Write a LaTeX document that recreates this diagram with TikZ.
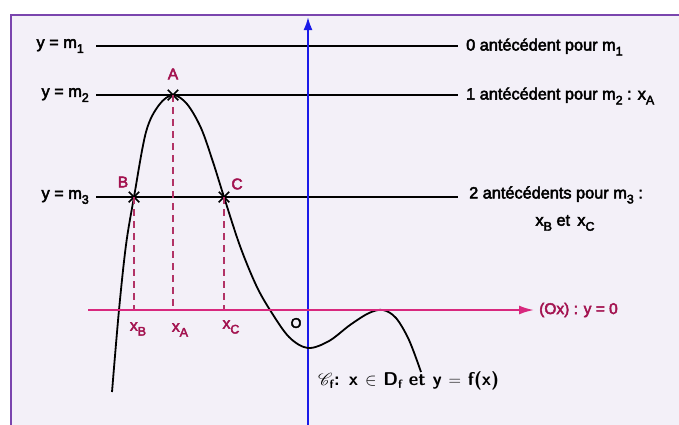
\documentclass[tikz,border=0pt]{standalone}
\usepackage{fontspec}
\usepackage{mathrsfs}
\setmainfont{Liberation Sans}
\newfontfamily\lab{Liberation Sans}[FakeBold=3]
\usetikzlibrary{arrows.meta,shapes.misc}
\definecolor{bgc}{HTML}{F3F0F8}
\definecolor{framec}{HTML}{7A45AE}
\definecolor{axb}{HTML}{1A1AE8}
\definecolor{axp}{HTML}{D8287E}
\definecolor{crim}{HTML}{A3124F}
\definecolor{dashc}{HTML}{B23366}
\newcommand{\sbx}[1]{\raisebox{-5pt}{\fontsize{12.5}{12}\selectfont #1}}
\begin{document}
\begin{tikzpicture}[x=1pt,y=-1pt,
  hline/.style={line width=1.3pt,black},
  curvestyle/.style={line width=1.8pt,black,line join=round},
  dashln/.style={line width=1.8pt,dashc,dash pattern=on 7pt off 5pt},
  ptmark/.style={draw=black,cross out,minimum size=9pt,inner sep=0pt,line width=1.5pt},
  lbl/.style={inner sep=0pt,font=\lab\fontsize{16.3}{18}\selectfont},
  clbl/.style={inner sep=0pt,text=crim,font=\lab\fontsize{15.5}{17}\selectfont},
]
\useasboundingbox (0,0) rectangle (679,424);
\clip (0,0) rectangle (679,424);
\fill[white] (0,0) rectangle (679,424);
\draw[framec,line width=2pt,fill=bgc] (11,15) rectangle (700,450);

% horizontal lines y = m1, m2, m3
\coordinate (l1a) at (96,46);  \coordinate (l1b) at (458,46);
\coordinate (l2a) at (96,95);  \coordinate (l2b) at (458,95);
\coordinate (l3a) at (96,197); \coordinate (l3b) at (458,197);
\draw[hline] (l1a) -- (l1b);
\draw[hline] (l2a) -- (l2b);
\draw[hline] (l3a) -- (l3b);

% y axis
\coordinate (yb) at (308,430);
\coordinate (yt) at (308,17);
\draw[axb,line width=2pt,-{Latex[length=13pt,width=9pt]}] (yb) -- (yt);

% curve
\draw[curvestyle] plot[smooth,tension=0.55] coordinates {
 (112,392) (119,310) (126,245) (134,197) (146,132) (159,105) (173,95)
 (187,104) (201,128) (213,162) (224,197) (240,246) (256,285) (270,310)
 (289,337) (308,348) (329,341) (350,325) (369,313) (383,310) (396,318)
 (409,340) (421,372)};

% points
\node[ptmark] (A) at (173,95) {};
\node[ptmark] (B) at (134,197) {};
\node[ptmark] (C) at (224,197) {};

% x axis
\coordinate (xs) at (88,310);
\coordinate (xe) at (534,310);
\coordinate (xA) at (173,310);
\coordinate (xB) at (134,310);
\coordinate (xC) at (224,310);
\draw[dashln] (A.center) -- (xA);
\draw[dashln] (B.center) -- (xB);
\draw[dashln] (C.center) -- (xC);
\draw[axp,line width=2pt,-{Latex[length=15pt,width=9pt]}] (xs) -- (xe);

% left labels
\node[lbl,anchor=east] (m1) at (84,46) {y = m\sbx{1}};
\node[lbl,anchor=east] (m2) at (89,95) {y = m\sbx{2}};
\node[lbl,anchor=east] (m3) at (89,197) {y = m\sbx{3}};

% right labels
\node[lbl,anchor=west] (r1) at (466,47) {0 antécédent pour m\sbx{1}};
\node[lbl,anchor=west] (r2) at (466,96) {1 antécédent pour m\sbx{2} : x\sbx{A}};
\node[lbl,anchor=west] (r3) at (469,195) {2 antécédents pour m\sbx{3} :};
\node[lbl] (r4) at (565,223) {x\sbx{B} et \,x\sbx{C}};

% point labels
\node[clbl] (lA) at (173,74) {A};
\node[clbl] (lB) at (123,182) {B};
\node[clbl] (lC) at (237,184) {C};
\node[clbl] (lxB) at (138,329) {x\sbx{B}};
\node[clbl] (lxA) at (180,330) {x\sbx{A}};
\node[clbl] (lxC) at (231,327) {x\sbx{C}};
\node[lbl,font=\lab\fontsize{14}{16}\selectfont] (O) at (296,323) {O};
\node[clbl,anchor=west] (ox) at (539,310) {(Ox) : y = 0};

% caption
\node[inner sep=0pt,anchor=west,font=\sffamily\bfseries\fontsize{18.5}{21}\selectfont] (cap) at (318,381)
 {$\mathscr{C}_{\mbox{\fontsize{12}{12}\selectfont f}}$: x $\in$ D\raisebox{-3pt}{\fontsize{12}{12}\selectfont f} et y $=$ f(x)};
\end{tikzpicture}
\end{document}
